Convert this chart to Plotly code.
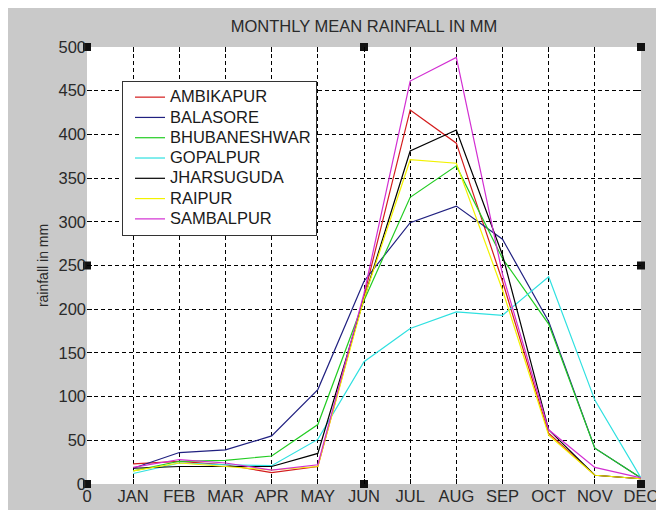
import plotly.graph_objects as go

tick_vals = list(range(13))
tick_text = ["0", "JAN", "FEB", "MAR", "APR", "MAY", "JUN", "JUL", "AUG", "SEP", "OCT", "NOV", "DEC"]
month_x = list(range(1, 13))

AMBIKAPUR = [23, 26, 22, 13, 20, 215, 428, 390, 232, 58, 10, 6]
BALASORE = [18, 36, 39, 55, 108, 232, 299, 318, 280, 186, 41, 7]
BHUBANESHWAR = [15, 26, 27, 32, 68, 210, 328, 364, 258, 183, 41, 7]
GOPALPUR = [12, 24, 22, 21, 51, 140, 178, 197, 193, 237, 96, 7]
JHARSUGUDA = [18, 20, 20, 20, 35, 212, 381, 405, 262, 62, 10, 6]
RAIPUR = [15, 24, 20, 16, 20, 212, 371, 367, 222, 56, 10, 6]
SAMBALPUR = [19, 28, 24, 16, 22, 218, 461, 488, 240, 62, 19, 7]

series = [
    ("AMBIKAPUR", AMBIKAPUR, "#d41c1c"),
    ("BALASORE", BALASORE, "#202080"),
    ("BHUBANESHWAR", BHUBANESHWAR, "#22cc22"),
    ("GOPALPUR", GOPALPUR, "#2ee0e0"),
    ("JHARSUGUDA", JHARSUGUDA, "#000000"),
    ("RAIPUR", RAIPUR, "#f2f200"),
    ("SAMBALPUR", SAMBALPUR, "#d22ed2"),
]

handle_x = [0, 6, 12, 0, 12, 0, 6, 12]
handle_y = [0, 0, 0, 250, 250, 500, 500, 500]

FONT = "Liberation Sans, Arial, sans-serif"
TXT = 16.5

fig = go.Figure()
for name, vals, col in series:
    fig.add_trace(go.Scatter(x=month_x, y=vals, mode="lines",
                             name=f"<span style='font-size:{TXT}px'>{name}</span>",
                             line=dict(color=col, width=1.2)))

fig.add_trace(go.Scatter(x=handle_x, y=handle_y, mode="markers", showlegend=False,
                         marker=dict(symbol="square", size=8, color="#111111"),
                         cliponaxis=False, hoverinfo="skip"))

axis_common = dict(
    ticks="inside", ticklen=5, tickcolor="black", mirror="ticks",
    showgrid=True, gridcolor="black", gridwidth=1, griddash="4px,3px",
    zeroline=False, showline=False, automargin=False,
    tickfont=dict(family=FONT, size=TXT, color="#2a2a2a"),
)

fig.update_layout(
    width=664, height=510,
    margin=dict(l=79, r=31, t=39, b=34),
    paper_bgcolor="#c9c9c9", plot_bgcolor="white",
    title=dict(text="MONTHLY MEAN RAINFALL IN MM", x=0.5, xref="paper", xanchor="center",
               y=1 - 18 / 510, yref="container", yanchor="middle",
               font=dict(family=FONT, size=TXT, color="#2a2a2a")),
    xaxis=dict(range=[0, 12], tickvals=tick_vals, ticktext=tick_text, **axis_common),
    yaxis=dict(range=[0, 500], dtick=50, tick0=0,
               title=dict(text="rainfall in mm", standoff=6,
                          font=dict(family=FONT, size=14, color="#2a2a2a")),
               **axis_common),
    legend=dict(x=(114 - 79) / 554, y=(476 - 73) / 437, xanchor="left", yanchor="top",
                bgcolor="white", bordercolor="#333333", borderwidth=1,
                font=dict(family=FONT, size=13.3, color="#1a1a1a"),
                tracegroupgap=0, indentation=7, entrywidth=160, entrywidthmode="pixels"),
    showlegend=True,
)

fig.write_html("out.html")
